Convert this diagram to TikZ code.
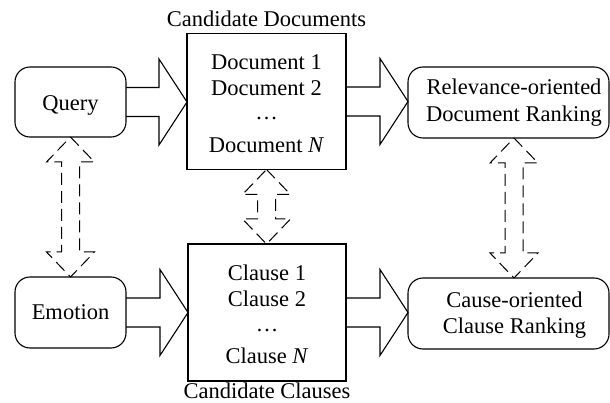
\documentclass[tikz,border=0pt]{standalone}
\usepackage{fontspec}
\setmainfont{Liberation Serif}
\usetikzlibrary{calc}

% hollow block arrow from the east side of #1 to the west side of #2
\newcommand\blockarrow[2]{%
  \draw[blockline] let \p1=(#1.east), \p2=(#2.west) in
    (\x1,\y1+14.5pt) -- (\x2-28pt,\y1+14.5pt) -- (\x2-28pt,\y1+43pt) --
    (\x2,\y1) --
    (\x2-28pt,\y1-43pt) -- (\x2-28pt,\y1-14.5pt) -- (\x1,\y1-14.5pt);}

% dashed two-headed hollow arrow from the bottom of #1 to the top of #2,
% shifted sideways by #3
\newcommand\linkarrow[3]{%
  \draw[linkline] let \p1=(#1.south), \p2=(#2.north) in
    (\x1+#3,\y1) -- (\x1+#3+24pt,\y1-25pt) -- (\x1+#3+9pt,\y1-25pt) --
    (\x1+#3+9pt,\y2+25pt) -- (\x1+#3+24pt,\y2+25pt) -- (\x1+#3,\y2) --
    (\x1+#3-24pt,\y2+25pt) -- (\x1+#3-9pt,\y2+25pt) --
    (\x1+#3-9pt,\y1-25pt) -- (\x1+#3-24pt,\y1-25pt) -- cycle;}

\begin{document}
\begin{tikzpicture}[x=1pt,y=-1pt,
  every node/.style={inner sep=0pt, outer sep=0pt},
  txt/.style={font=\fontsize{22.5}{27}\selectfont, anchor=base},
  roundbox/.style={draw, line width=1.1pt, rounded corners=15pt},
  sharpbox/.style={draw, line width=1.1pt},
  blockline/.style={line width=1.1pt, line join=miter},
  linkline/.style={line width=1pt, dash pattern=on 12pt off 6pt}]

\useasboundingbox (0,0) rectangle (610,403);

% boxes
\node[roundbox, minimum width=111pt, minimum height=70pt] (query) at (70.5,102) {};
\node[roundbox, minimum width=111pt, minimum height=71pt] (emotion) at (70.5,312.5) {};
\node[sharpbox, minimum width=159pt, minimum height=136pt] (docs) at (266.5,101.5) {};
\node[sharpbox, minimum width=158pt, minimum height=137pt] (clauses) at (267,312.5) {};
\node[roundbox, minimum width=201pt, minimum height=71pt] (rel) at (508.5,102.5) {};
\node[roundbox, minimum width=201pt, minimum height=71pt] (cause) at (508.5,313.5) {};

% texts
\node[txt] (tq) at (70.5,111) {Query};
\node[txt] (te) at (70.5,319) {Emotion};

\node[txt] (tcd) at (266.5,27) {Candidate Documents};
\node[txt] (td1) at (266.5,70) {Document 1};
\node[txt] (td2) at (266.5,96) {Document 2};
\node[txt] (tdd) at (266.5,120) {…};
\node[txt] (tdn) at (266.5,153) {Document \textit{N}};

\node[txt] (tc1) at (267,280) {Clause 1};
\node[txt] (tc2) at (267,306) {Clause 2};
\node[txt] (tcdots) at (267,331) {…};
\node[txt] (tcn) at (267,363) {Clause \textit{N}};
\node[txt] (tcc) at (267,398) {Candidate Clauses};

\node[txt] (tr1) at (514,95) {Relevance-oriented};
\node[txt] (tr2) at (514,122) {Document Ranking};
\node[txt] (tk1) at (514.5,307) {Cause-oriented};
\node[txt] (tk2) at (514.5,333) {Clause Ranking};

% block arrows
\blockarrow{query}{docs}
\blockarrow{docs}{rel}
\blockarrow{emotion}{clauses}
\blockarrow{clauses}{cause}

% dashed links
\linkarrow{query}{emotion}{0pt}
\linkarrow{docs}{clauses}{0pt}
\linkarrow{rel}{cause}{5.5pt}

\end{tikzpicture}
\end{document}
